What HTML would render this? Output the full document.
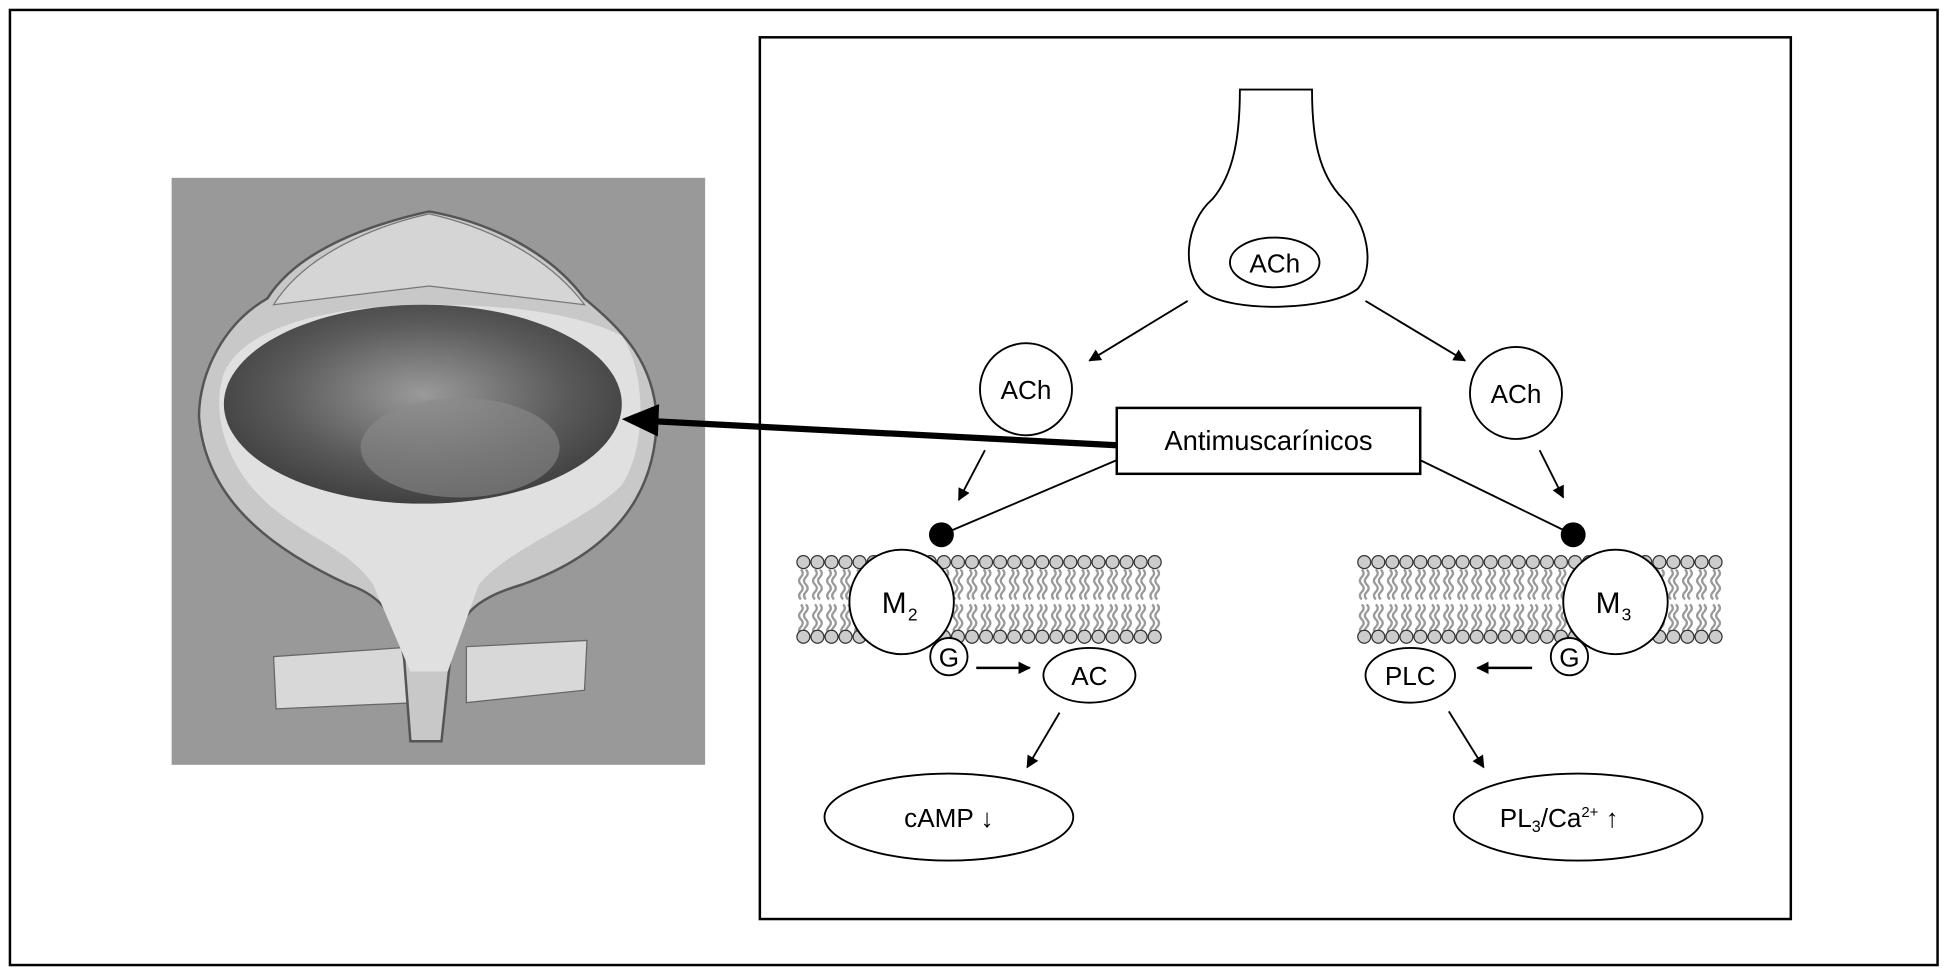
<!DOCTYPE html>
<html><head><meta charset="utf-8"><style>
html,body{margin:0;padding:0;background:#fff;}
svg{display:block;}
text{font-family:"Liberation Sans",sans-serif;fill:#000;}
</style></head><body>
<svg width="1950" height="975" viewBox="0 0 1568 784" xmlns="http://www.w3.org/2000/svg">
<defs>
<marker id="ah" markerWidth="10" markerHeight="10" refX="9" refY="5" orient="auto" markerUnits="userSpaceOnUse">
<path d="M0,0 L10,5 L0,10 z" fill="#000"/></marker>
<radialGradient id="cav" cx="0.5" cy="0.45" r="0.6">
<stop offset="0" stop-color="#9a9a9a"/><stop offset="0.6" stop-color="#5a5a5a"/><stop offset="1" stop-color="#3a3a3a"/></radialGradient>
<pattern id="lip" width="40" height="19" patternUnits="userSpaceOnUse">
<rect width="40" height="19" fill="none"/>
<path id="wv" d="M0,0"/>
</pattern>
</defs>
<rect x="8" y="8" width="1550" height="768" fill="none" stroke="#000" stroke-width="2"/>
<rect x="611" y="30" width="829" height="709" fill="none" stroke="#000" stroke-width="2"/>
<!-- bladder -->
<rect x="138" y="143" width="429" height="472" fill="#999"/>
<path d="M220,528 L335,520 L335,565 L222,570 Z" fill="#d8d8d8" stroke="#666"/>
<path d="M375,520 L472,515 L470,555 L375,565 Z" fill="#d8d8d8" stroke="#666"/>
<path d="M345,170 C300,180 240,200 215,240 C180,260 160,300 160,335 C165,400 215,440 280,470 C310,480 320,500 325,530 L330,596 L355,596 L362,530 C368,495 380,482 420,470 C490,445 528,400 528,335 C525,290 500,265 470,240 C440,200 390,178 345,170 Z" fill="#c8c8c8" stroke="#555" stroke-width="2"/>
<path d="M345,172 C300,182 245,205 220,245 L345,230 L470,245 C440,205 390,182 345,172 Z" fill="#d5d5d5" stroke="#777"/>
<path d="M345,245 C290,245 200,255 180,300 C170,330 180,370 210,400 C240,430 280,440 300,470 L330,540 L360,540 L385,470 C410,440 470,420 500,390 C520,360 520,300 500,270 C460,250 400,245 345,245 Z" fill="#e0e0e0"/>
<ellipse cx="340" cy="325" rx="160" ry="80" fill="url(#cav)"/>
<ellipse cx="370" cy="360" rx="80" ry="40" fill="#8a8a8a" opacity="0.6"/>
<!-- nerve terminal -->
<path d="M997,72 L1055,72 C1055,110 1060,140 1080,160 C1100,180 1106,215 1092,232 C1070,250 990,252 968,235 C950,220 952,180 975,160 C992,140 997,110 997,72 Z" fill="#fff" stroke="#000" stroke-width="1.5"/>
<ellipse cx="1025" cy="211" rx="36" ry="20" fill="#fff" stroke="#000" stroke-width="1.5"/>
<text x="1025" y="219" font-size="21" text-anchor="middle">ACh</text>
<line x1="955" y1="242" x2="876" y2="290" stroke="#000" stroke-width="1.5" marker-end="url(#ah)"/>
<line x1="1098" y1="242" x2="1178" y2="290" stroke="#000" stroke-width="1.5" marker-end="url(#ah)"/>
<circle cx="825" cy="313" r="37" fill="#fff" stroke="#000" stroke-width="1.5"/>
<text x="825" y="321" font-size="21" text-anchor="middle">ACh</text>
<circle cx="1219" cy="316" r="37" fill="#fff" stroke="#000" stroke-width="1.5"/>
<text x="1219" y="324" font-size="21" text-anchor="middle">ACh</text>
<line x1="898" y1="358" x2="512" y2="338" stroke="#000" stroke-width="5"/>
<path d="M500,337 L530,325 L529,351 Z" fill="#000"/>
<line x1="898" y1="370" x2="757" y2="430" stroke="#000" stroke-width="1.5"/>
<line x1="1142" y1="370" x2="1265" y2="430" stroke="#000" stroke-width="1.5"/>
<rect x="898" y="328" width="244" height="53" fill="#fff" stroke="#000" stroke-width="2"/>
<text x="1020" y="362" font-size="22" text-anchor="middle">Antimuscarínicos</text>
<line x1="792" y1="362" x2="771" y2="402" stroke="#000" stroke-width="1.5" marker-end="url(#ah)"/>
<line x1="1238" y1="362" x2="1257" y2="400" stroke="#000" stroke-width="1.5" marker-end="url(#ah)"/>
<circle cx="757" cy="430" r="10" fill="#000"/>
<circle cx="1265" cy="430" r="10" fill="#000"/>
<!-- membranes -->
<g id="mem">
<g stroke="#999" stroke-width="2" fill="none">
</g>
</g>
<g fill="#ccc" stroke="#333" stroke-width="1">
<g id="leftmem"></g>
</g>
<g id="membranes"></g>
<script>
(function(){
var ns="http://www.w3.org/2000/svg",g=document.getElementById("membranes");
function mem(x0,x1){
 for(var x=x0;x<=x1+0.1;x+=11.3){
  for(var k=0;k<2;k++){
   var p=document.createElementNS(ns,"path");
   var y0=k?486:458;
   var d="M"+(x-2)+","+y0;
   for(var i=0;i<4;i++){d+=" q3,3 0,6";i++;d+=" q-3,3 0,6";}
   p.setAttribute("d",d+" M"+(x+2)+","+y0+" q3,3 0,6 q-3,3 0,6 q3,3 0,6 q-3,3 0,6");
   p.setAttribute("stroke","#999");p.setAttribute("stroke-width","1.8");p.setAttribute("fill","none");
   g.appendChild(p);
  }
  [452,512].forEach(function(y){var c=document.createElementNS(ns,"circle");c.setAttribute("cx",x);c.setAttribute("cy",y);c.setAttribute("r",5.2);c.setAttribute("fill","#ccc");c.setAttribute("stroke","#333");c.setAttribute("stroke-width","1");g.appendChild(c);});
 }
}
mem(646,937);mem(1097,1385);
})();
</script>
<circle cx="725" cy="484" r="42" fill="#fff" stroke="#000" stroke-width="1.5"/>
<text x="709" y="493" font-size="24">M</text><text x="730" y="499" font-size="14">2</text>
<circle cx="763" cy="528" r="15" fill="#fff" stroke="#000" stroke-width="1.5"/>
<text x="763" y="536" font-size="21" text-anchor="middle">G</text>
<line x1="785" y1="537" x2="828" y2="537" stroke="#000" stroke-width="2" marker-end="url(#ah)"/>
<ellipse cx="876" cy="543" rx="37" ry="22" fill="#fff" stroke="#000" stroke-width="1.5"/>
<text x="876" y="551" font-size="21" text-anchor="middle">AC</text>
<line x1="852" y1="573" x2="826" y2="617" stroke="#000" stroke-width="1.5" marker-end="url(#ah)"/>
<ellipse cx="763" cy="657" rx="100" ry="35" fill="#fff" stroke="#000" stroke-width="1.5"/>
<text x="763" y="665" font-size="21" text-anchor="middle">cAMP ↓</text>
<circle cx="1299" cy="484" r="42" fill="#fff" stroke="#000" stroke-width="1.5"/>
<text x="1283" y="493" font-size="24">M</text><text x="1304" y="499" font-size="14">3</text>
<circle cx="1262" cy="528" r="15" fill="#fff" stroke="#000" stroke-width="1.5"/>
<text x="1262" y="536" font-size="21" text-anchor="middle">G</text>
<line x1="1232" y1="537" x2="1188" y2="537" stroke="#000" stroke-width="2" marker-end="url(#ah)"/>
<ellipse cx="1134" cy="543" rx="36" ry="22" fill="#fff" stroke="#000" stroke-width="1.5"/>
<text x="1134" y="551" font-size="21" text-anchor="middle">PLC</text>
<line x1="1165" y1="572" x2="1193" y2="617" stroke="#000" stroke-width="1.5" marker-end="url(#ah)"/>
<ellipse cx="1269" cy="657" rx="100" ry="35" fill="#fff" stroke="#000" stroke-width="1.5"/>
<text x="1206" y="665" font-size="21">PL<tspan font-size="13" dy="4">3</tspan><tspan dy="-4">/Ca</tspan><tspan font-size="12" dy="-8">2+</tspan><tspan dy="8"> ↑</tspan></text>
</svg>
</body></html>
